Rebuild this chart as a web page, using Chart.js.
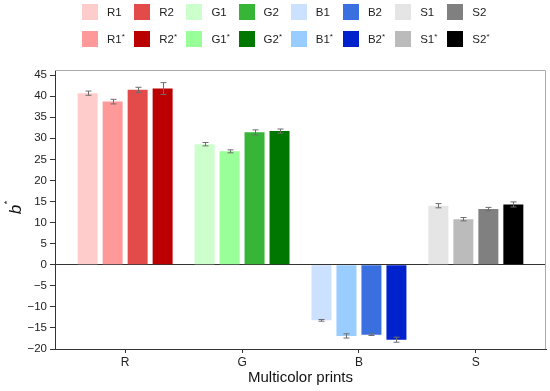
<!DOCTYPE html>
<html>
<head>
<meta charset="utf-8">
<script src="https://cdn.jsdelivr.net/npm/chart.js@4.4.1/dist/chart.umd.min.js"></script>
<style>
    html, body { margin: 0; padding: 0; background: #fff; }
    #wrap { position: relative; width: 550px; height: 391px; }
    #legend {
        position: absolute; left: 82px; top: 4px;
        font-family: 'Liberation Sans', Arial, sans-serif; font-size: 11.5px; color: #222;
    }
    .row { display: flex; height: 16px; margin-bottom: 11px; }
    .item { width: 52.2px; display: flex; align-items: center; white-space: nowrap; }
    .box { width: 16px; height: 16px; margin-right: 9px; flex: none; }
    .item sup { font-size: 8px; vertical-align: 4px; line-height: 0; }
</style>
</head>
<body>
<div id="wrap">
    <canvas id="bchart"></canvas>
    <div id="legend"></div>
</div>
<script>
const groups = ["R", "G", "B", "S"];
const seriesNames = ["1", "1*", "2", "2*"];
const yTicks = [-20, -15, -10, -5, 0, 5, 10, 15, 20, 25, 30, 35, 40, 45];

// b* values per group (R1, R1*, R2, R2*) and their error bars
const rValues = [40.7, 38.7, 41.5, 41.8];
const rErrors = [0.5, 0.55, 0.6, 1.4];
const gValues = [28.6, 26.9, 31.4, 31.7];
const gErrors = [0.4, 0.35, 0.6, 0.5];
const bValues = [-13.2, -16.9, -16.6, -17.8];
const bErrors = [0.2, 0.5, 0.2, 0.6];
const sValues = [14.0, 10.8, 13.2, 14.3];
const sErrors = [0.5, 0.4, 0.4, 0.6];

const rColors = ["#ffcccc", "#ff9999", "#e34b4b", "#bb0000"];
const gColors = ["#ccffcc", "#99ff99", "#36b536", "#007700"];
const bColors = ["#cce0ff", "#99ccff", "#3a6fe0", "#0022cc"];
const sColors = ["#e5e5e5", "#bbbbbb", "#808080", "#000000"];

const values = [rValues, gValues, bValues, sValues];
const errors = [rErrors, gErrors, bErrors, sErrors];
const colors = [rColors, gColors, bColors, sColors];

Chart.defaults.font.family = "'Liberation Sans', Arial, sans-serif";

const datasets = [];
groups.forEach(function (g, gi) {
    seriesNames.forEach(function (s, si) {
        datasets.push({
            label: g + s,
            backgroundColor: colors[gi][si],
            borderWidth: 0,
            data: groups.map(function (_, k) {
                return { x: k, y: k === gi ? values[gi][si] : null };
            }),
            errors: groups.map(function (_, k) {
                return k === gi ? errors[gi][si] : null;
            }),
        });
    });
});

const errorBars = {
    id: "errorBars",
    afterDatasetsDraw: function (chart) {
        const ctx = chart.ctx;
        const y = chart.scales.y;
        ctx.save();
        ctx.strokeStyle = "#6e6e6e";
        ctx.lineWidth = 1;
        chart.data.datasets.forEach(function (ds, i) {
            chart.getDatasetMeta(i).data.forEach(function (bar, k) {
                const v = ds.data[k].y;
                const e = ds.errors[k];
                if (v == null || e == null) return;
                const top = y.getPixelForValue(v + e);
                const bot = y.getPixelForValue(v - e);
                const x = Math.round(bar.x) + 0.5;
                ctx.beginPath();
                ctx.moveTo(x, top); ctx.lineTo(x, bot);
                ctx.moveTo(x - 3, top); ctx.lineTo(x + 3, top);
                ctx.moveTo(x - 3, bot); ctx.lineTo(x + 3, bot);
                ctx.stroke();
            });
        });
        ctx.restore();
    },
};

const frameAndLabel = {
    id: "frameAndLabel",
    afterDraw: function (chart) {
        const ctx = chart.ctx;
        const ca = chart.chartArea;
        ctx.save();
        ctx.strokeStyle = "#aaaaaa";
        ctx.lineWidth = 1;
        ctx.beginPath();
        ctx.moveTo(ca.left, ca.top + 0.5);
        ctx.lineTo(ca.right - 0.5, ca.top + 0.5);
        ctx.lineTo(ca.right - 0.5, ca.bottom);
        ctx.stroke();
        // y axis title: italic b with a raised asterisk
        ctx.translate(chart.scales.y.left + 16, (ca.top + ca.bottom) / 2);
        ctx.rotate(-Math.PI / 2);
        ctx.fillStyle = "#111";
        ctx.textAlign = "center";
        ctx.textBaseline = "middle";
        ctx.font = "italic 17px 'Liberation Sans', Arial, sans-serif";
        ctx.fillText("b", 0, 0);
        ctx.font = "9px 'Liberation Sans', Arial, sans-serif";
        ctx.fillText("*", 7, -8);
        ctx.restore();
    },
};

const chart = new Chart(document.getElementById("bchart"), {
    type: "bar",
    data: { datasets: datasets },
    options: {
        responsive: true,
        maintainAspectRatio: false,
        animation: false,
        skipNull: true,
        categoryPercentage: 0.855,
        barPercentage: 0.8,
        layout: { padding: { top: 70, right: 4, left: 0, bottom: 0 } },
        plugins: {
            legend: { display: false },
            tooltip: { enabled: false },
        },
        scales: {
            x: {
                type: "linear",
                min: -0.6,
                max: 3.6,
                offset: false,
                afterBuildTicks: function (s) {
                    s.ticks = groups.map(function (_, i) { return { value: i }; });
                },
                afterFit: function (s) { s.height = 42; },
                grid: { offset: false, drawOnChartArea: false, tickLength: 4, tickColor: "#333" },
                border: { color: "#333" },
                ticks: {
                    padding: 2,
                    color: "#222",
                    font: { size: 12 },
                    maxRotation: 0,
                    callback: function (v) { return groups[v]; },
                },
                title: {
                    display: true,
                    text: "Multicolor prints",
                    color: "#111",
                    font: { size: 15 },
                    padding: { top: 0, bottom: 4 },
                },
            },
            y: {
                min: -20,
                max: 46.2,
                afterBuildTicks: function (s) {
                    s.ticks = yTicks.map(function (v) { return { value: v }; });
                },
                afterFit: function (s) { s.width = 55; },
                grid: {
                    drawOnChartArea: true,
                    color: function (c) {
                        return c.tick && c.tick.value === 0 ? "#333" : "rgba(0,0,0,0)";
                    },
                    tickColor: "#333",
                    tickLength: 5,
                },
                border: { color: "#333" },
                ticks: {
                    padding: 3,
                    color: "#222",
                    font: { size: 11.5 },
                    callback: function (v) {
                        return v < 0 ? "\u2212" + Math.abs(v) : String(v);
                    },
                },
            },
        },
    },
    plugins: [errorBars, frameAndLabel],
});

// two-row legend: plain series on top, starred series below
function buildLegend() {
    const el = document.getElementById("legend");
    [["1", "2"], ["1*", "2*"]].forEach(function (pair) {
        const row = document.createElement("div");
        row.className = "row";
        groups.forEach(function (g) {
            pair.forEach(function (s) {
                const ds = chart.data.datasets.find(function (d) { return d.label === g + s; });
                const item = document.createElement("div");
                item.className = "item";
                const box = document.createElement("span");
                box.className = "box";
                box.style.background = ds.backgroundColor;
                const txt = document.createElement("span");
                txt.innerHTML = s.indexOf("*") >= 0 ? g + s.replace("*", "") + "<sup>*</sup>" : g + s;
                item.appendChild(box);
                item.appendChild(txt);
                row.appendChild(item);
            });
        });
        el.appendChild(row);
    });
}
buildLegend();
</script>
</body>
</html>
